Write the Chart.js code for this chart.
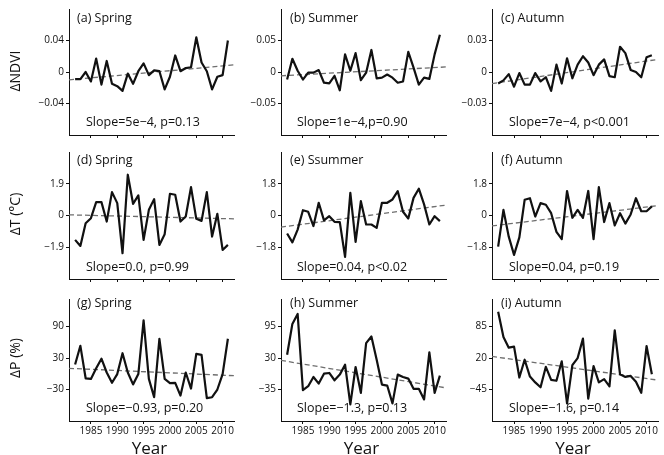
<!DOCTYPE html>
<html>
<head>
<meta charset="utf-8">
<script src="https://cdn.jsdelivr.net/npm/chart.js@4.4.1/dist/chart.umd.min.js"></script>
<style>
  html, body { margin: 0; padding: 0; background: #fff; }
  #wrap { position: relative; width: 664px; height: 455px; overflow: hidden; font-family: "Open Sans", sans-serif; color: #111; }
  #wrap canvas { position: absolute; }
  .txt { position: absolute; white-space: nowrap; line-height: 1; transform: translateY(-50%); }
  .panel-title { font-size: 12.5px; }
  .slope { font-size: 12.5px; }
  .ytitle { position: absolute; white-space: nowrap; font-size: 14px; line-height: 1; transform: translate(-50%, -50%) rotate(-90deg); }
  .xtitle { position: absolute; white-space: nowrap; font-size: 17px; line-height: 1; transform: translate(-50%, -50%); }
</style>
</head>
<body>
<div id="wrap"></div>
<script>
const years = [1982, 1983, 1984, 1985, 1986, 1987, 1988, 1989, 1990, 1991,
  1992, 1993, 1994, 1995, 1996, 1997, 1998, 1999, 2000, 2001,
  2002, 2003, 2004, 2005, 2006, 2007, 2008, 2009, 2010, 2011]
const yearTicks = [1985, 1990, 1995, 2000, 2005, 2010]
const yearLabels = ["1985", "1990", "1995", "2000", "2005", "2010"]

// NDVI anomalies
const ndviSpring = [-0.009, -0.009, 0.000, -0.012, 0.017, -0.016, 0.014, -0.015, -0.018, -0.024,
  -0.002, -0.015, 0.001, 0.011, -0.004, 0.002, 0.001, -0.022, -0.006, 0.021,
  0.001, 0.005, 0.006, 0.044, 0.012, 0.001, -0.022, -0.006, -0.004, 0.040]
const ndviSummer = [-0.012, 0.021, 0.002, -0.012, -0.001, -0.001, 0.003, -0.017, -0.018, -0.006,
  -0.029, 0.028, 0.002, 0.030, -0.013, -0.001, 0.035, -0.010, -0.009, -0.004,
  -0.009, -0.017, -0.015, 0.032, 0.007, -0.020, -0.009, -0.011, 0.028, 0.059]
const ndviAutumn = [-0.011, -0.008, -0.002, -0.014, -0.001, -0.012, -0.012, -0.001, -0.009, -0.005,
  -0.018, 0.007, -0.011, 0.013, -0.006, 0.007, 0.015, 0.009, -0.003, 0.007,
  0.012, -0.004, -0.005, 0.024, 0.018, 0.002, 0.000, -0.005, 0.014, 0.016]

// temperature anomalies (°C)
const tempSpring = [-1.46, -1.82, -0.46, -0.16, 0.80, 0.80, -0.36, 1.40, 0.74, -2.26,
  2.44, 0.70, 1.20, -1.46, 0.34, 0.98, -1.76, -1.12, 1.30, 1.24,
  -0.36, -0.06, 1.70, -0.20, -0.32, 1.40, -1.26, 0.10, -2.06, -1.76]
const tempSummer = [-1.02, -1.52, -0.80, 0.30, 0.21, -0.60, 0.72, -0.28, -0.04, -0.36,
  -0.38, -2.35, 1.29, -1.50, 0.81, -0.51, -0.51, -0.70, 0.72, 0.72,
  0.91, 1.38, 0.21, -0.17, 1.00, 1.52, 0.63, -0.51, -0.04, -0.32]
const tempAutumn = [-1.76, 0.32, -1.20, -2.23, -1.24, 0.89, 0.98, -0.06, 0.70, 0.61,
  0.13, -0.93, -1.34, 1.39, -0.13, 0.32, -0.13, 1.39, -1.34, 1.61,
  -0.37, 0.70, -0.56, 0.13, -0.46, 0.06, 0.98, 0.24, 0.24, 0.52]

// precipitation anomalies (%)
const precSpring = [17.8, 53.3, -8.6, -9.8, 10.4, 28.8, 2.4, -17.2, -0.6, 39.2,
  2.4, -20.2, -0.6, 101.6, -9.8, -44.7, 66.7, -9.8, -17.8, -17.2,
  -41.6, 2.4, -28.2, 38.0, 36.1, -46.5, -44.7, -30.0, -0.6, 66.7]
const precSummer = [36.8, 100.5, 121.0, -36.4, -28.2, -9.0, -22.7, -2.2, -0.8, -15.8,
  -4.2, 16.3, -65.8, 11.5, -41.8, 60.8, 74.5, 26.6, -24.7, -26.8,
  -63.7, -4.2, -9.0, -12.4, -33.6, -33.6, -55.5, 41.6, -41.8, -6.3]
const precAutumn = [115.8, 63.6, 41.4, 43.5, -20.2, 16.6, -18.2, -30.3, -40.3, 1.9,
  -24.9, -26.9, 13.3, -73.8, 5.3, 20.0, 60.2, -63.8, 3.2, -30.3,
  -23.6, -38.3, 77.0, -13.5, -18.9, -16.9, -28.9, -51.7, 44.8, -13.5]

// trend line values at the left and right edges of each plot
const trendNdviSpring = [-0.010, 0.009]
const trendNdviSummer = [-0.006, 0.008]
const trendNdviAutumn = [-0.011, 0.012]
const trendTempSpring = [0.04, -0.20]
const trendTempSummer = [-0.66, 0.59]
const trendTempAutumn = [-0.59, 0.56]
const trendPrecSpring = [10.4, -3.7]
const trendPrecSummer = [25.2, -31.6]
const trendPrecAutumn = [23.4, -25.6]

// y ticks
const ticksNdviSpring = [-0.04, 0, 0.04]
const labelsNdviSpring = ["\u22120.04", "0", "0.04"]
const ticksNdviSummer = [-0.05, 0, 0.05]
const labelsNdviSummer = ["\u22120.05", "0", "0.05"]
const ticksNdviAutumn = [-0.03, 0, 0.03]
const labelsNdviAutumn = ["\u22120.03", "0", "0.03"]
const ticksTempSpring = [-1.9, 0, 1.9]
const labelsTempSpring = ["\u22121.9", "0", "1.9"]
const ticksTempOther = [-1.8, 0, 1.8]
const labelsTempOther = ["\u22121.8", "0", "1.8"]
const ticksPrecSpring = [-30, 30, 90]
const labelsPrecSpring = ["\u221230", "30", "90"]
const ticksPrecSummer = [-35, 30, 95]
const labelsPrecSummer = ["\u221235", "30", "95"]
const ticksPrecAutumn = [-45, 20, 85]
const labelsPrecAutumn = ["\u221245", "20", "85"]

const panelTitles = ["(a) Spring", "(b) Summer", "(c) Autumn",
  "(d) Spring", "(e) Ssummer", "(f) Autumn",
  "(g) Spring", "(h) Summer", "(i) Autumn"]
const slopeTexts = ["Slope=5e\u22124, p=0.13", "Slope=1e\u22124,p=0.90", "Slope=7e\u22124, p<0.001",
  "Slope=0.0, p=0.99", "Slope=0.04, p<0.02", "Slope=0.04, p=0.19",
  "Slope=\u22120.93, p=0.20", "Slope=\u22121.3, p=0.13", "Slope=\u22121.6, p=0.14"]
const rowTitles = ["\u0394NDVI", "\u0394T (\u00b0C)", "\u0394P (%)"]
const xTitle = "Year"

// layout
const X_MIN = 1980.84
const X_MAX = 2012.16
const colLeft = [69, 281, 492]
const colRight = [234, 446, 658]
const rowTop = [7, 150, 297]
const rowBottom = [135, 279, 421]
const AXIS_W = 50
const AXIS_H = 20
const PAD_T = 6
const PAD_R = 6
const FONT = "'Open Sans', sans-serif"

const panels = [
  { values: ndviSpring, trend: trendNdviSpring, ticks: ticksNdviSpring, labels: labelsNdviSpring, min: -0.08, max: 0.08 },
  { values: ndviSummer, trend: trendNdviSummer, ticks: ticksNdviSummer, labels: labelsNdviSummer, min: -0.10, max: 0.10 },
  { values: ndviAutumn, trend: trendNdviAutumn, ticks: ticksNdviAutumn, labels: labelsNdviAutumn, min: -0.06, max: 0.06 },
  { values: tempSpring, trend: trendTempSpring, ticks: ticksTempSpring, labels: labelsTempSpring, min: -3.8, max: 3.8 },
  { values: tempSummer, trend: trendTempSummer, ticks: ticksTempOther, labels: labelsTempOther, min: -3.6, max: 3.6 },
  { values: tempAutumn, trend: trendTempAutumn, ticks: ticksTempOther, labels: labelsTempOther, min: -3.6, max: 3.6 },
  { values: precSpring, trend: trendPrecSpring, ticks: ticksPrecSpring, labels: labelsPrecSpring, min: -90, max: 142.5 },
  { values: precSummer, trend: trendPrecSummer, ticks: ticksPrecSummer, labels: labelsPrecSummer, min: -100, max: 152 },
  { values: precAutumn, trend: trendPrecAutumn, ticks: ticksPrecAutumn, labels: labelsPrecAutumn, min: -110, max: 142 }
]

const titleY = [17.5, 160, 302.5]
const titleOffset = [8, 9, 9]
const slopeY = [122, 266.5, 408]
const slopeOffset = [17, 16, 17]

const wrap = document.getElementById("wrap")

const addText = (cls, text, left, top) => {
  const div = document.createElement("div")
  div.className = cls
  div.textContent = text
  div.style.left = left + "px"
  div.style.top = top + "px"
  wrap.appendChild(div)
}

const buildPanel = (panel, index) => {
  const row = Math.floor(index / 3)
  const col = index % 3
  const width = colRight[col] - colLeft[col] + AXIS_W + PAD_R
  const height = rowBottom[row] - rowTop[row] + PAD_T + AXIS_H

  const canvas = document.createElement("canvas")
  canvas.width = width
  canvas.height = height
  canvas.style.left = (colLeft[col] - AXIS_W) + "px"
  canvas.style.top = (rowTop[row] - PAD_T) + "px"
  canvas.style.width = width + "px"
  canvas.style.height = height + "px"
  wrap.appendChild(canvas)

  const isBottom = row === 2

  new Chart(canvas.getContext("2d"), {
    type: "line",
    data: {
      datasets: [
        {
          data: years.map((year, i) => ({ x: year, y: panel.values[i] })),
          borderColor: "#111",
          borderWidth: 2.2,
          borderJoinStyle: "round",
          pointRadius: 0,
          tension: 0
        },
        {
          data: [{ x: X_MIN, y: panel.trend[0] }, { x: X_MAX, y: panel.trend[1] }],
          borderColor: "#6e6e6e",
          borderWidth: 1.3,
          borderDash: [5, 3],
          pointRadius: 0
        }
      ]
    },
    options: {
      responsive: false,
      animation: false,
      events: [],
      devicePixelRatio: 1,
      layout: { padding: { top: PAD_T, right: PAD_R, left: 0, bottom: 0 } },
      plugins: { legend: { display: false }, tooltip: { enabled: false } },
      scales: {
        x: {
          type: "linear",
          min: X_MIN,
          max: X_MAX,
          afterBuildTicks: (scale) => { scale.ticks = yearTicks.map((v) => ({ value: v })) },
          afterFit: (scale) => { scale.height = AXIS_H },
          grid: { display: true, drawOnChartArea: false, drawTicks: true, tickLength: 3, color: "#111" },
          border: { display: true, color: "#111", width: 1 },
          ticks: {
            autoSkip: false,
            maxRotation: 0,
            padding: 1,
            color: "#111",
            font: { family: FONT, size: 10 },
            callback: (value, i) => (isBottom ? yearLabels[i] : "")
          }
        },
        y: {
          min: panel.min,
          max: panel.max,
          afterBuildTicks: (scale) => { scale.ticks = panel.ticks.map((v) => ({ value: v })) },
          afterFit: (scale) => { scale.width = AXIS_W },
          grid: { display: true, drawOnChartArea: false, drawTicks: true, tickLength: 3, color: "#111" },
          border: { display: true, color: "#111", width: 1 },
          ticks: {
            padding: 2,
            color: "#111",
            font: { family: FONT, size: 10 },
            callback: (value, i) => panel.labels[i]
          }
        }
      }
    }
  })

  addText("txt panel-title", panelTitles[index], colLeft[col] + titleOffset[col], titleY[row])
  addText("txt slope", slopeTexts[index], colLeft[col] + slopeOffset[col], slopeY[row])
}

panels.forEach(buildPanel)

const rowMid = [71, 214, 358]
rowTitles.forEach((text, row) => addText("ytitle", text, 15, rowMid[row]))

colLeft.forEach((left, col) => addText("xtitle", xTitle, (left + colRight[col]) / 2 - 2, 447))
</script>
</body>
</html>
